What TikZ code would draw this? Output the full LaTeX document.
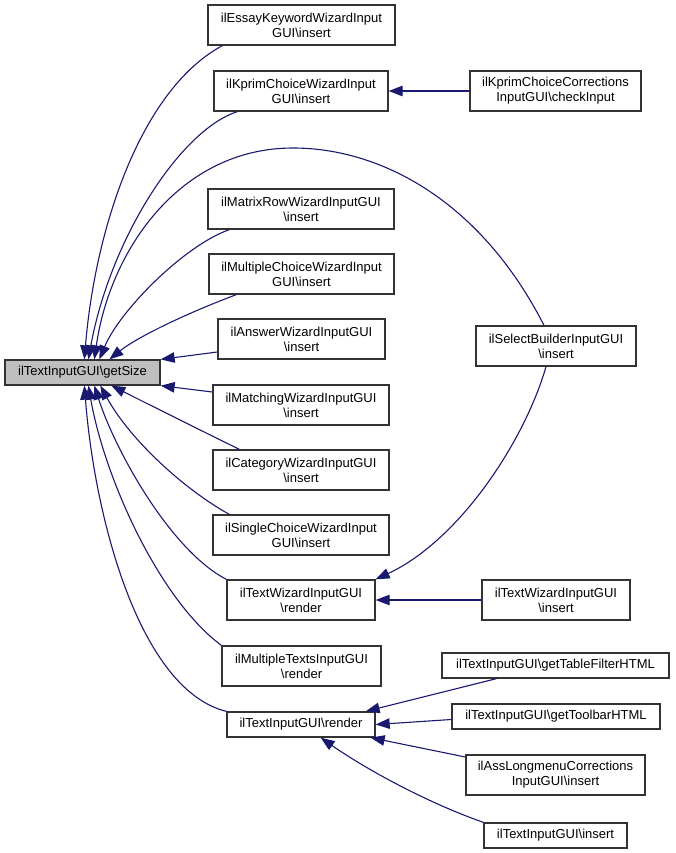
\documentclass[tikz,border=0pt]{standalone}
\usepackage{fontspec}
\setmainfont{Liberation Sans}
\usetikzlibrary{arrows.meta}
\definecolor{edgeblue}{RGB}{25,25,112}
\begin{document}
\begin{tikzpicture}[x=1pt,y=-1pt,
  box/.style={draw=black!80, line width=1.3pt, fill=white, inner sep=0pt, minimum height=40pt, align=center, font=\fontsize{13}{15}\selectfont},
  boxone/.style={box, minimum height=25pt},
  edge/.style={draw=edgeblue, line width=1.1pt, -{Triangle[length=14pt,width=10.5pt]}}]
\path[use as bounding box] (0,0) rectangle (675,853);
% nodes
\node[boxone, fill=black!25, minimum width=155pt] (root) at (82.5,372.5) {ilTextInputGUI\textbackslash getSize};
\node[box, minimum width=187pt] (essay) at (301.5,25) {ilEssayKeywordWizardInput\\GUI\textbackslash insert};
\node[box, minimum width=174pt] (kprim) at (301,91) {ilKprimChoiceWizardInput\\GUI\textbackslash insert};
\node[box, minimum width=186pt] (matrix) at (301,209) {ilMatrixRowWizardInputGUI\\\textbackslash insert};
\node[box, minimum width=185pt] (mchoice) at (301.5,274) {ilMultipleChoiceWizardInput\\GUI\textbackslash insert};
\node[box, minimum width=167pt] (answer) at (301.5,339) {ilAnswerWizardInputGUI\\\textbackslash insert};
\node[box, minimum width=176pt] (matching) at (301,405) {ilMatchingWizardInputGUI\\\textbackslash insert};
\node[box, minimum width=176pt] (category) at (301,470) {ilCategoryWizardInputGUI\\\textbackslash insert};
\node[box, minimum width=176pt] (single) at (301,535) {ilSingleChoiceWizardInput\\GUI\textbackslash insert};
\node[box, minimum width=148pt] (twrender) at (301,600) {ilTextWizardInputGUI\\\textbackslash render};
\node[box, minimum width=159pt] (mtexts) at (301.5,666) {ilMultipleTextsInputGUI\\\textbackslash render};
\node[boxone, minimum width=148pt] (tirender) at (301,724.5) {ilTextInputGUI\textbackslash render};
\node[box, minimum width=171pt] (kprimcorr) at (555.5,91) {ilKprimChoiceCorrections\\InputGUI\textbackslash checkInput};
\node[box, minimum width=160pt] (select) at (556,346) {ilSelectBuilderInputGUI\\\textbackslash insert};
\node[box, minimum width=148pt] (twinsert) at (556,600) {ilTextWizardInputGUI\\\textbackslash insert};
\node[boxone, minimum width=227pt] (tablefilter) at (555.5,665.5) {ilTextInputGUI\textbackslash getTableFilterHTML};
\node[boxone, minimum width=208pt] (toolbar) at (556,716.5) {ilTextInputGUI\textbackslash getToolbarHTML};
\node[box, minimum width=179pt] (asslong) at (555.5,775) {ilAssLongmenuCorrections\\InputGUI\textbackslash insert};
\node[boxone, minimum width=143pt] (tiinsert) at (555.5,835.5) {ilTextInputGUI\textbackslash insert};
% edges into getSize (top)
\draw[edge] ([xshift=15pt]essay.south west) .. controls (140,90) and (95,230) .. ([xshift=80pt]root.north west);
\draw[edge] ([xshift=24pt]kprim.south west) .. controls (180,130) and (110,240) .. ([xshift=84pt]root.north west);
\draw[edge] ([xshift=-12pt]select.north) .. controls (480,200) and (380,148) .. (293,148) .. controls (180,148) and (110,250) .. ([xshift=90pt]root.north west);
\draw[edge] ([xshift=22pt]matrix.south west) .. controls (185,245) and (120,310) .. ([xshift=95pt]root.north west);
\draw[edge] ([xshift=28pt]mchoice.south west) .. controls (195,310) and (140,335) .. ([xshift=105pt]root.north west);
\draw[edge] ([yshift=-13pt]answer.west) -- (root.north east);
\draw[edge] ([yshift=13pt]matching.west) -- (root.south east);
% edges into getSize (bottom)
\draw[edge] ([xshift=27pt]category.north west) .. controls (200,430) and (150,405) .. ([xshift=107pt]root.south west);
\draw[edge] ([xshift=17pt]single.north west) .. controls (185,490) and (130,440) .. ([xshift=96pt]root.south west);
\draw[edge] (twrender.north west) .. controls (170,550) and (115,450) .. ([xshift=90pt]root.south west);
\draw[edge] (mtexts.north west) .. controls (160,600) and (105,480) .. ([xshift=84pt]root.south west);
\draw[edge] (tirender.north west) .. controls (140,690) and (95,520) .. ([xshift=80pt]root.south west);
% other edges
\draw[edge] (kprimcorr.west) -- (kprim.east);
\draw[edge] ([xshift=-10pt]select.south) .. controls (525,440) and (460,540) .. (twrender.north east);
\draw[edge] (twinsert.west) -- (twrender.east);
\draw[edge] ([xshift=55pt]tablefilter.south west) -- ([xshift=-10pt]tirender.north east);
\draw[edge] ([yshift=-3pt]toolbar.west) -- (tirender.east);
\draw[edge] ([yshift=18pt]asslong.west) -- ([xshift=-5pt]tirender.south east);
\draw[edge] (tiinsert.north west) .. controls (420,800) and (360,765) .. ([xshift=-55pt]tirender.south east);
\end{tikzpicture}
\end{document}
